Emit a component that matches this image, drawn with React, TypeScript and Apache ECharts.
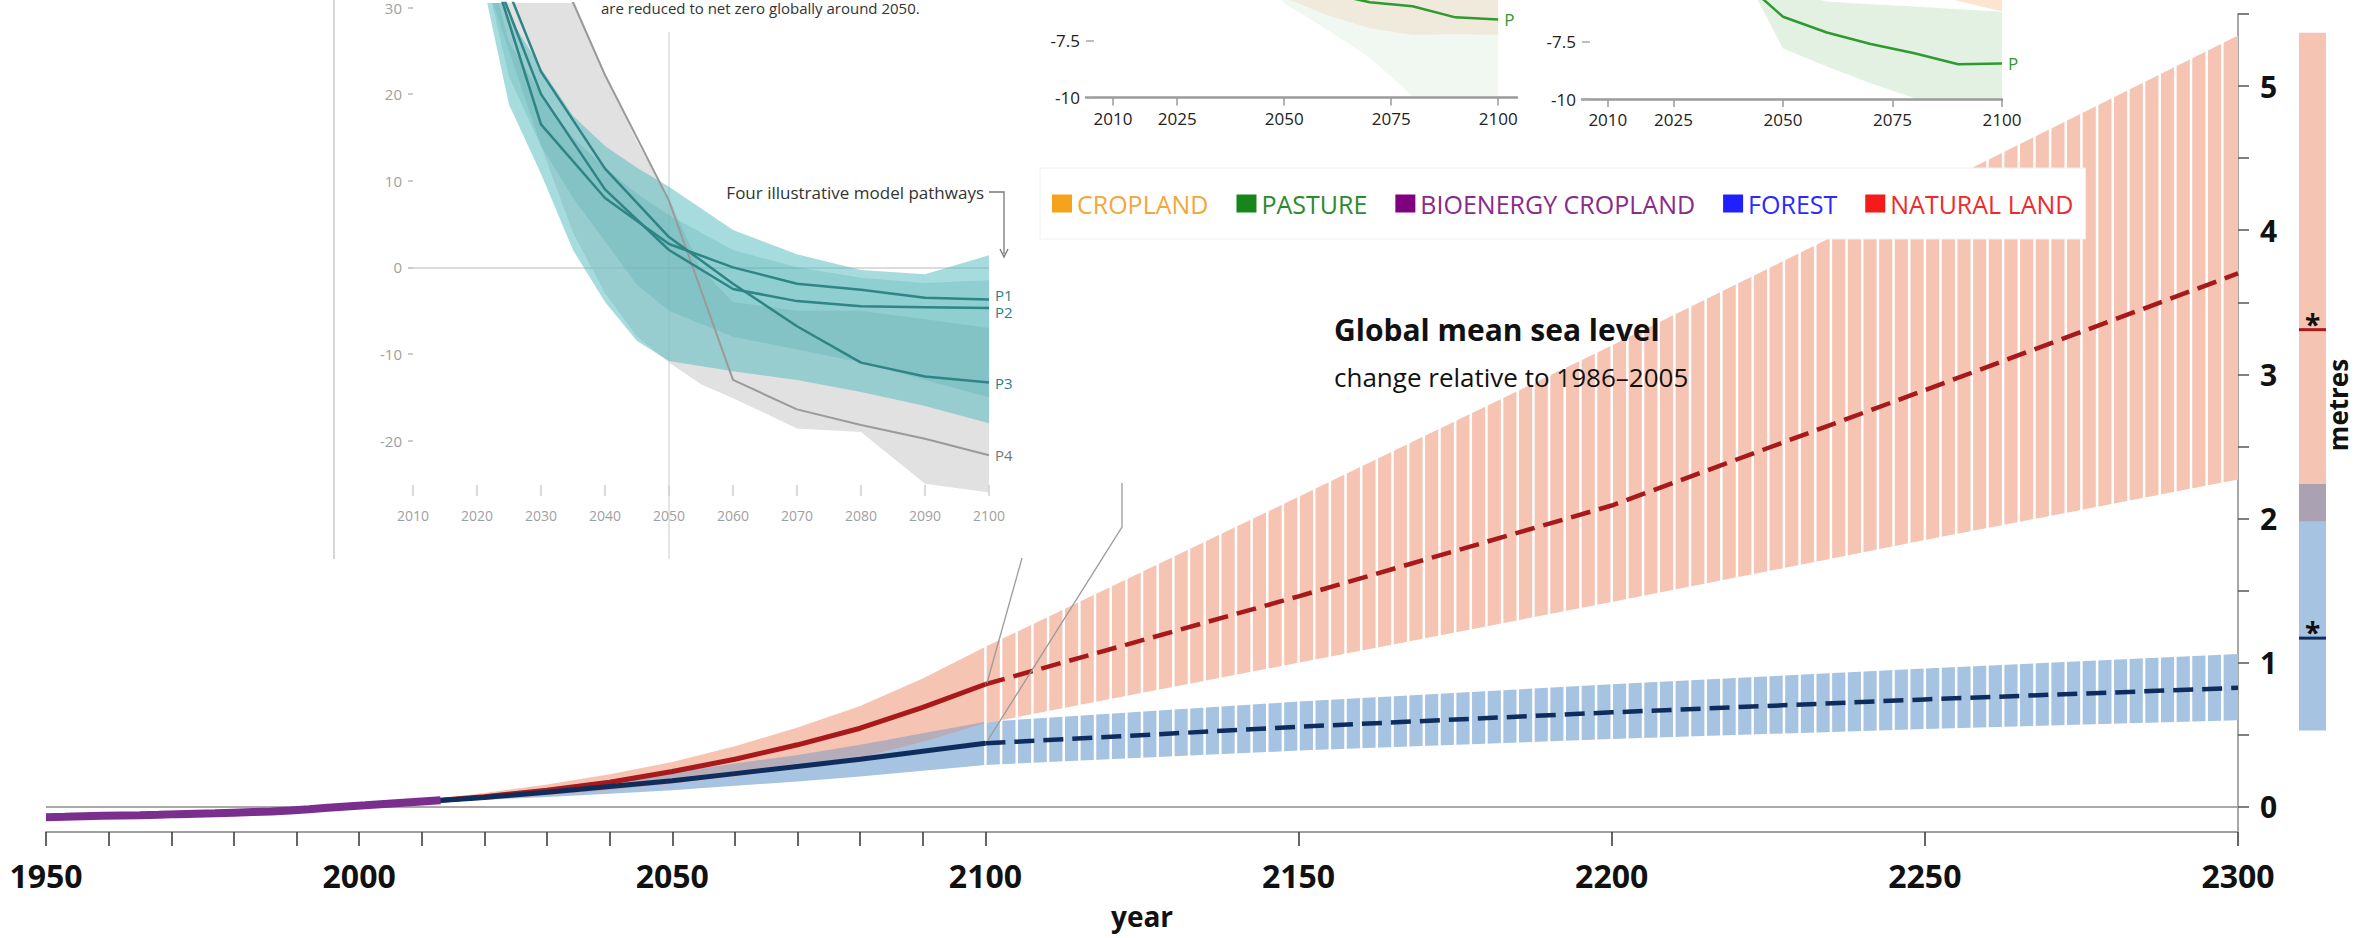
import React, { useEffect, useRef } from 'react';
import * as echarts from 'echarts';

const FONT = "'Open Sans', 'Liberation Sans', 'DejaVu Sans', sans-serif";
const NARROW = "'Liberation Sans Narrow', 'Open Sans', sans-serif";
const plain = (v: number) => String(v);

// ---------------- main chart: axes ----------------
const xTickYears = [1950, 1960, 1970, 1980, 1990, 2000, 2010, 2020, 2030, 2040, 2050, 2060, 2070, 2080, 2090, 2100, 2150, 2200, 2250, 2300];
const xLabelYears = [1950, 2000, 2050, 2100, 2150, 2200, 2250, 2300];
const yTickMetres = [0, 0.5, 1, 1.5, 2, 2.5, 3, 3.5, 4, 4.5, 5, 5.5];
const yLabelMetres = [0, 1, 2, 3, 4, 5];

// ---------------- observed sea level (purple) ----------------
const histYears = [1950, 1953, 1956, 1959, 1962, 1965, 1968, 1971, 1974, 1977, 1980, 1983, 1986, 1989, 1992, 1995, 1998, 2001, 2004, 2007, 2010, 2013];
const histLevel = [-0.072, -0.07, -0.066, -0.063, -0.06, -0.058, -0.055, -0.051, -0.048, -0.045, -0.041, -0.037, -0.033, -0.026, -0.017, -0.007, 0.002, 0.01, 0.019, 0.028, 0.037, 0.046];

// ---------------- projections to 2100 ----------------
const projYears = [2006, 2010, 2020, 2030, 2040, 2050, 2060, 2070, 2080, 2090, 2100];
const rcp85Median = [0.025, 0.035, 0.07, 0.115, 0.17, 0.245, 0.33, 0.43, 0.545, 0.69, 0.85];
const rcp85Low = [0.02, 0.028, 0.05, 0.08, 0.115, 0.16, 0.21, 0.27, 0.34, 0.45, 0.58];
const rcp85High = [0.03, 0.045, 0.095, 0.155, 0.225, 0.31, 0.42, 0.55, 0.7, 0.89, 1.11];
const rcp26Median = [0.025, 0.035, 0.065, 0.1, 0.14, 0.18, 0.23, 0.28, 0.33, 0.385, 0.44];
const rcp26Low = [0.02, 0.027, 0.048, 0.068, 0.09, 0.115, 0.145, 0.175, 0.21, 0.25, 0.29];
const rcp26High = [0.03, 0.045, 0.085, 0.13, 0.185, 0.24, 0.3, 0.36, 0.43, 0.51, 0.59];

// ---------------- extension 2100-2300 ----------------
const extYears = [2100, 2150, 2200, 2250, 2300];
const ext85Median = [0.85, 1.46, 2.09, 2.89, 3.7];
const ext85Low = [0.58, 1.0, 1.42, 1.85, 2.27];
const ext85High = [1.11, 2.15, 3.2, 4.27, 5.35];
const ext26Median = [0.44, 0.555, 0.655, 0.745, 0.825];
const ext26Low = [0.29, 0.39, 0.47, 0.54, 0.6];
const ext26High = [0.59, 0.73, 0.85, 0.96, 1.06];

// ---------------- side bar (2300 ranges) ----------------
const sideNames = ['RCP2.6', 'RCP8.5'];
const sideLow = [0.53, 1.98];
const sideHigh = [2.24, 5.37];
const sideMedian = [1.17, 3.31];

// ---------------- emissions inset ----------------
const emisYears = [2010, 2020, 2030, 2040, 2050, 2060, 2070, 2080, 2090, 2100];
const emisP1 = [38, 40, 16.5, 8, 2.7, 0, -1.9, -2.6, -3.5, -3.7];
const emisP2 = [38, 39, 20, 9, 2, -2.5, -3.9, -4.5, -4.6, -4.7];
const emisP3 = [38, 41, 22.6, 11.4, 3.5, -1.9, -6.8, -11, -12.6, -13.3];
const emisP4 = [38, 44, 39, 22.2, 7.7, -13, -16.4, -18.2, -19.8, -21.7];
const tealYears = [2020, 2025, 2030, 2035, 2040, 2045, 2050, 2060, 2070, 2080, 2090, 2100];
const tealHigh = [44, 29, 23, 17.5, 14, 11.5, 9.3, 4.3, 1.5, -0.3, -0.8, 1.4];
const tealLow = [36, 18.8, 10.8, 2, -4, -8.5, -10.8, -12, -13, -14.4, -16, -18];
const tealCoreHigh = [40, 26, 20, 15, 11.5, 8.5, 6, 2, 0, -1.2, -1.8, -1.5];
const tealCoreLow = [38, 22, 14, 8, 3, -2, -5, -8, -9.5, -11, -13, -15];
const greyYears = [2020, 2030, 2035, 2040, 2045, 2050, 2055, 2060, 2070, 2080, 2090, 2100];
const greyHigh = [46, 40, 31, 22.5, 14.5, 7.9, -0.2, -4, -5, -5, -6, -7];
const greyLow = [36, 14, 4, -3, -8, -11, -13.5, -15.1, -18.6, -19, -25, -26];
const emisXTicks = [2010, 2020, 2030, 2040, 2050, 2060, 2070, 2080, 2090, 2100];
const emisYTicks = [-20, -10, 0, 10, 20, 30];

// ---------------- land-use inset B ----------------
const lbYears = [2045, 2050, 2060, 2070, 2080, 2090, 2100];
const lbPasture = [-4.0, -4.6, -5.4, -5.8, -5.98, -6.47, -6.56];
const lbPastureLow = [-4.6, -5.85, -7.0, -8.25, -9.95, -11.5, -13];
const lbPastureHigh = [-4, -4, -4, -4, -4, -4, -4];
const lbCropLow = [-4.5, -5.6, -6.37, -6.95, -7.25, -7.2, -7.25];
const lbCropHigh = [-4, -4, -4, -4, -4, -4, -4];

// ---------------- land-use inset C ----------------
const lcYears = [2040, 2044, 2050, 2060, 2070, 2080, 2090, 2100];
const lcPasture = [-4.5, -5.4, -6.41, -7.1, -7.6, -8.0, -8.48, -8.45];
const lcPastureHigh = [-4.0, -4.8, -5.3, -5.75, -5.87, -5.96, -6.08, -6.19];
const lcPastureLow = [-4.3, -5.6, -7.8, -8.58, -9.31, -9.97, -10.7, -11.2];
const lcCropYears = [2085, 2090, 2095, 2100];
const lcCropHigh = [-5, -5, -5, -5];
const lcCropLow = [-5.5, -5.72, -5.95, -6.17];
const landXTicks = [2010, 2025, 2050, 2075, 2100];
const landYTicks = [-10, -7.5];

const legendItems = ['CROPLAND', 'PASTURE', 'BIOENERGY CROPLAND', 'FOREST', 'NATURAL LAND'];
const legendColors = ['#f7a21b', '#17861a', '#800080', '#1f1fff', '#f51b1b'];
const legendTextColors = ['#f2a73c', '#2a8a2e', '#8a2a8a', '#2a2aff', '#ee2a2a'];

// ---------------- colours ----------------
const PINK = '#f6c4b3';
const BLUE = '#a6c3e2';
const OVERLAP = '#b6adba';
const RED = '#a8191c';
const NAVY = '#0f2d5c';
const PURPLE = '#7a2f8e';

function band(name: string, idx: number, years: number[], lo: number[], hi: number[], color: string, z: number, opacity = 1) {
  return {
    type: 'custom',
    name,
    xAxisIndex: idx,
    yAxisIndex: idx,
    z,
    silent: true,
    clip: true,
    itemStyle: { color },
    data: years.map((y, i) => [y, lo[i], hi[i]]),
    encode: { x: 0, y: [1, 2] },
    renderItem: (params: any, api: any) => {
      if (params.dataIndex !== 0) return { type: 'group', children: [] };
      const upper = years.map((y, i) => api.coord([y, hi[i]]));
      const lower = years.map((y, i) => api.coord([y, lo[i]])).reverse();
      return { type: 'polygon', shape: { points: upper.concat(lower) }, style: { fill: color, opacity } };
    },
  };
}

function line(name: string, idx: number, xs: number[], ys: number[], color: string, width: number, z: number, extra: any = {}) {
  return {
    type: 'line',
    name,
    xAxisIndex: idx,
    yAxisIndex: idx,
    data: xs.map((x, i) => [x, ys[i]]),
    symbol: 'none',
    showSymbol: false,
    silent: true,
    z,
    lineStyle: { color, width, ...(extra.lineStyle || {}) },
    itemStyle: { color },
    ...Object.fromEntries(Object.entries(extra).filter(([k]) => k !== 'lineStyle')),
  };
}

function buildOption() {
  const overlapLow = projYears.map((_, i) => Math.max(rcp85Low[i], rcp26Low[i]));
  const overlapHigh = projYears.map((_, i) => Math.max(overlapLow[i], Math.min(rcp85High[i], rcp26High[i])));
  const sideOverlapLow = Math.max(sideLow[0], sideLow[1]);
  const sideOverlapHigh = Math.min(sideHigh[0], sideHigh[1]);
  const sideColors = [BLUE, PINK];

  const stripeStart = 2100;
  const stripeStep = 2.5;
  const stripeCount = 80;

  const landAxisX = (idx: number, min: number, max: number) => ({
    type: 'value', gridIndex: idx, min, max, z: 8,
    axisLine: { show: true, onZero: false, lineStyle: { color: '#9a9a9a', width: 2.5 } },
    axisTick: { show: true, customValues: landXTicks, length: 8, lineStyle: { color: '#9a9a9a', width: 1.5 } },
    axisLabel: { customValues: landXTicks, formatter: plain, fontSize: 17, color: '#222', margin: 12, fontFamily: FONT },
    splitLine: { show: false },
  });
  const landAxisY = (idx: number, max: number) => ({
    type: 'value', gridIndex: idx, min: -10, max, z: 8,
    axisLine: { show: false, onZero: false },
    axisTick: { show: true, inside: true, customValues: landYTicks, length: 8, lineStyle: { color: '#aaa', width: 1.5 } },
    axisLabel: { customValues: landYTicks, formatter: plain, fontSize: 17, color: '#222', margin: 6, fontFamily: FONT },
    splitLine: { show: false },
  });

  const series: any[] = [
    // ---------- main chart ----------
    band('RCP2.6 range', 0, projYears, rcp26Low, rcp26High, BLUE, 1),
    band('RCP8.5 range', 0, projYears, rcp85Low, rcp85High, PINK, 1),
    band('overlap', 0, projYears, overlapLow, overlapHigh, OVERLAP, 1),
    band('RCP2.6 range ext', 0, extYears, ext26Low, ext26High, BLUE, 1),
    band('RCP8.5 range ext', 0, extYears, ext85Low, ext85High, PINK, 1),
    {
      type: 'custom', name: 'stripe gaps', xAxisIndex: 0, yAxisIndex: 0, z: 2, silent: true,
      data: [[stripeStart, 0]],
      renderItem: (params: any, api: any) => {
        const children: any[] = [];
        for (let k = 0; k < stripeCount; k++) {
          const yr = stripeStart + k * stripeStep;
          const top = api.coord([yr, 5.5]);
          const bot = api.coord([yr, 0.15]);
          children.push({ type: 'line', shape: { x1: top[0], y1: top[1], x2: bot[0], y2: bot[1] }, style: { stroke: '#fff', lineWidth: 2.5 } });
        }
        return { type: 'group', children };
      },
    },
    {
      type: 'line', name: 'zero', xAxisIndex: 0, yAxisIndex: 0, z: 3, silent: true, data: [[1950, 0]], symbol: 'none',
      lineStyle: { opacity: 0 },
      markLine: { silent: true, symbol: ['none', 'none'], label: { show: false }, lineStyle: { color: '#a9a9a9', width: 2, type: 'solid' }, data: [{ yAxis: 0 }] },
    },
    line('RCP8.5 median', 0, projYears, rcp85Median, RED, 5, 4),
    line('RCP2.6 median', 0, projYears, rcp26Median, NAVY, 5, 4),
    line('RCP8.5 median ext', 0, extYears, ext85Median, RED, 4.5, 4, { lineStyle: { type: [20, 9] } }),
    line('RCP2.6 median ext', 0, extYears, ext26Median, NAVY, 4.5, 4, { lineStyle: { type: [20, 9] } }),
    line('observed', 0, histYears, histLevel, PURPLE, 8, 5),

    // ---------- side bar ----------
    {
      type: 'custom', name: 'side ranges', xAxisIndex: 1, yAxisIndex: 1, z: 2, silent: true,
      data: sideNames.map((n, i) => [0, sideLow[i], sideHigh[i], i]),
      renderItem: (params: any, api: any) => {
        const i = params.dataIndex;
        const a = api.coord([0, sideHigh[i]]);
        const b = api.coord([1, sideLow[i]]);
        return { type: 'rect', shape: { x: a[0], y: a[1], width: b[0] - a[0], height: b[1] - a[1] }, style: { fill: sideColors[i] } };
      },
    },
    {
      type: 'custom', name: 'side overlap', xAxisIndex: 1, yAxisIndex: 1, z: 3, silent: true,
      data: [[0, sideOverlapLow, sideOverlapHigh]],
      renderItem: (params: any, api: any) => {
        const a = api.coord([0, sideOverlapHigh]);
        const b = api.coord([1, sideOverlapLow]);
        return { type: 'rect', shape: { x: a[0], y: a[1], width: b[0] - a[0], height: b[1] - a[1] }, style: { fill: '#aaa1b2' } };
      },
    },
    {
      type: 'custom', name: 'side medians', xAxisIndex: 1, yAxisIndex: 1, z: 4, silent: true,
      data: sideMedian.map((m, i) => [0.5, m, i]),
      renderItem: (params: any, api: any) => {
        const i = params.dataIndex;
        const a = api.coord([0, sideMedian[i]]);
        const b = api.coord([1, sideMedian[i]]);
        return {
          type: 'group', children: [
            { type: 'line', shape: { x1: a[0], y1: a[1], x2: b[0], y2: b[1] }, style: { stroke: i === 0 ? NAVY : RED, lineWidth: 3 } },
            { type: 'text', x: (a[0] + b[0]) / 2, y: a[1] - 6, style: { text: '*', fontSize: 28, fontWeight: 'bold', fill: '#111', align: 'center', verticalAlign: 'middle', fontFamily: FONT } },
          ],
        };
      },
    },

    // ---------- emissions inset ----------
    band('overshoot pathways', 2, greyYears, greyLow, greyHigh, 'rgba(200,200,200,0.55)', 5),
    band('no/limited overshoot', 2, tealYears, tealLow, tealHigh, 'rgba(80,185,190,0.5)', 5),
    band('core', 2, tealYears, tealCoreLow, tealCoreHigh, 'rgba(60,160,165,0.22)', 5),
    {
      type: 'line', name: 'zero2', xAxisIndex: 2, yAxisIndex: 2, z: 4, silent: true, data: [[2010, 0]], symbol: 'none',
      lineStyle: { opacity: 0 },
      markLine: { silent: true, symbol: ['none', 'none'], label: { show: false }, lineStyle: { color: '#d0d0d0', width: 1.5, type: 'solid' }, data: [{ yAxis: 0 }] },
    },
    line('P4', 2, emisYears, emisP4, '#9a9a9a', 2, 6, { endLabel: { show: true, formatter: 'P4', color: '#777', fontSize: 15, distance: 6, fontFamily: FONT } }),
    line('P3', 2, emisYears, emisP3, '#2f8486', 2.5, 6, { endLabel: { show: true, formatter: 'P3', color: '#2a7f80', fontSize: 15, distance: 6, fontFamily: FONT } }),
    line('P2', 2, emisYears, emisP2, '#2f8486', 2.5, 6, { endLabel: { show: true, formatter: 'P2', color: '#2a7f80', fontSize: 15, distance: 6, fontFamily: FONT, offset: [0, 4] } }),
    line('P1', 2, emisYears, emisP1, '#2f8486', 2.5, 6, { endLabel: { show: true, formatter: 'P1', color: '#2a7f80', fontSize: 15, distance: 6, fontFamily: FONT, offset: [0, -4] } }),

    // ---------- land-use inset B ----------
    band('PASTURE', 3, lbYears, lbPastureLow, lbPastureHigh, 'rgba(80,170,80,0.08)', 5),
    band('CROPLAND', 3, lbYears, lbCropLow, lbCropHigh, 'rgba(238,160,110,0.16)', 5),
    line('PASTURE', 3, lbYears, lbPasture, '#2f9a2f', 2.5, 6, { endLabel: { show: true, formatter: 'P', color: '#2f9a2f', fontSize: 17, distance: 6, fontFamily: FONT } }),

    // ---------- land-use inset C ----------
    band('PASTURE', 4, lcYears, lcPastureLow, lcPastureHigh, 'rgba(80,170,80,0.16)', 5),
    band('CROPLAND', 4, lcCropYears, lcCropLow, lcCropHigh, 'rgba(245,170,100,0.3)', 5),
    line('PASTURE', 4, lcYears, lcPasture, '#2f9a2f', 2.5, 6, { endLabel: { show: true, formatter: 'P', color: '#2f9a2f', fontSize: 17, distance: 6, fontFamily: FONT } }),

    // legend-only series
    { type: 'line', name: 'BIOENERGY CROPLAND', xAxisIndex: 3, yAxisIndex: 3, data: [], itemStyle: { color: legendColors[2] } },
    { type: 'line', name: 'FOREST', xAxisIndex: 3, yAxisIndex: 3, data: [], itemStyle: { color: legendColors[3] } },
    { type: 'line', name: 'NATURAL LAND', xAxisIndex: 3, yAxisIndex: 3, data: [], itemStyle: { color: legendColors[4] } },
  ];

  return {
    animation: false,
    backgroundColor: '#fff',
    textStyle: { fontFamily: FONT },
    grid: [
      { left: 46, right: 118, top: 14, bottom: 106 },
      { left: 2299, width: 27, top: 14, bottom: 106 },
      { left: 413, width: 576, top: 0, height: 496 },
      { left: 1086, width: 431, top: 0, height: 97.5 },
      { left: 1582, width: 420, top: 0, height: 99 },
    ],
    xAxis: [
      {
        type: 'value', gridIndex: 0, min: 1950, max: 2300,
        axisLine: { show: true, onZero: false, lineStyle: { color: '#a0a0a0', width: 2 } },
        axisTick: { show: true, customValues: xTickYears, length: 14, lineStyle: { color: '#333', width: 1.5 } },
        axisLabel: { customValues: xLabelYears, formatter: plain, fontSize: 32, fontWeight: 'bold', color: '#111', margin: 27, fontFamily: FONT },
        splitLine: { show: false },
        name: 'year', nameLocation: 'middle', nameGap: 70,
        nameTextStyle: { fontSize: 28, fontWeight: 'bold', color: '#111', fontFamily: FONT },
      },
      { type: 'value', gridIndex: 1, min: 0, max: 1, show: false },
      {
        type: 'value', gridIndex: 2, min: 2010, max: 2100, z: 8,
        axisLine: { show: false, onZero: false },
        axisTick: { show: true, inside: true, customValues: emisXTicks, length: 11, lineStyle: { color: '#cfcfcf', width: 1.5 } },
        axisLabel: { customValues: emisXTicks, formatter: plain, fontSize: 14, color: '#a0a0a0', margin: 12, fontFamily: NARROW },
        splitLine: { show: false },
      },
      landAxisX(3, 2003.7, 2104.4),
      landAxisX(4, 2004.1, 2100),
    ],
    yAxis: [
      {
        type: 'value', gridIndex: 0, min: -0.175, max: 5.5, position: 'right',
        axisLine: { show: true, onZero: false, lineStyle: { color: '#a8a8a8', width: 2 } },
        axisTick: { show: true, customValues: yTickMetres, length: 11, lineStyle: { color: '#555', width: 1.5 } },
        axisLabel: { customValues: yLabelMetres, formatter: plain, fontSize: 30, fontWeight: 'bold', color: '#111', margin: 22, fontFamily: FONT },
        splitLine: { show: false },
      },
      { type: 'value', gridIndex: 1, min: -0.175, max: 5.5, show: false },
      {
        type: 'value', gridIndex: 2, min: -26.4, max: 30.52, z: 8,
        axisLine: { show: false, onZero: false },
        axisTick: { show: true, customValues: emisYTicks, length: 5, lineStyle: { color: '#bbb', width: 1.5 } },
        axisLabel: { customValues: emisYTicks, formatter: plain, fontSize: 15, color: '#a0a0a0', margin: 11, fontFamily: NARROW },
        splitLine: { show: false },
      },
      landAxisY(3, -5.705),
      landAxisY(4, -5.68),
    ],
    legend: {
      data: legendItems.map((n, i) => ({ name: n, itemStyle: { color: legendColors[i] }, textStyle: { color: legendTextColors[i] } })),
      left: 1040, top: 168, orient: 'horizontal', icon: 'rect', itemWidth: 20, itemHeight: 18, itemGap: 28,
      selectedMode: false, backgroundColor: '#fff', borderColor: '#f0f0f0', borderWidth: 1, padding: [23, 12, 23, 12],
      textStyle: { fontSize: 25, fontFamily: FONT },
    },
    graphic: [
      { type: 'line', z: 0, silent: true, shape: { x1: 334, y1: 0, x2: 334, y2: 559 }, style: { stroke: '#c8c8c8', lineWidth: 1.5 } },
      { type: 'line', z: 0, silent: true, shape: { x1: 669, y1: 32, x2: 669, y2: 559 }, style: { stroke: '#dedede', lineWidth: 1.5 } },
      { type: 'text', z: 10, silent: true, x: 601, y: 15, style: { text: 'are reduced to net zero globally around 2050.', fontSize: 15, fill: '#333', verticalAlign: 'bottom', fontFamily: NARROW } },
      { type: 'text', z: 10, silent: true, x: 984, y: 192, style: { text: 'Four illustrative model pathways', fontSize: 17, fill: '#333', align: 'right', verticalAlign: 'middle', fontFamily: NARROW } },
      { type: 'polyline', z: 10, silent: true, shape: { points: [[989, 192], [1004, 192], [1004, 254]] }, style: { stroke: '#777', lineWidth: 1.3, fill: null } },
      { type: 'polyline', z: 10, silent: true, shape: { points: [[1000, 249], [1004, 257], [1008, 249]] }, style: { stroke: '#777', lineWidth: 1.3, fill: null } },
      { type: 'line', z: 10, silent: true, shape: { x1: 1022, y1: 558, x2: 987, y2: 683 }, style: { stroke: '#9a9a9a', lineWidth: 1.3 } },
      { type: 'polyline', z: 10, silent: true, shape: { points: [[1122, 483], [1122, 527], [988, 740]] }, style: { stroke: '#9a9a9a', lineWidth: 1.3, fill: null } },
      { type: 'text', z: 10, silent: true, x: 1334, y: 329, style: { text: 'Global mean sea level', fontSize: 30, fontWeight: 'bold', fill: '#111', verticalAlign: 'middle', fontFamily: FONT } },
      { type: 'text', z: 10, silent: true, x: 1334, y: 377, style: { text: 'change relative to 1986\u20132005', fontSize: 26, fill: '#111', verticalAlign: 'middle', fontFamily: FONT } },
      { type: 'text', z: 10, silent: true, x: 2338, y: 405, rotation: Math.PI / 2, style: { text: 'metres', fontSize: 26, fontWeight: 'bold', fill: '#111', align: 'center', verticalAlign: 'middle', fontFamily: FONT } },
    ],
    series,
  };
}

export default function App() {
  const ref = useRef<HTMLDivElement>(null);
  useEffect(() => {
    const chart = echarts.init(ref.current as HTMLDivElement, null, { renderer: 'svg' });
    chart.setOption(buildOption() as any);
    return () => chart.dispose();
  }, []);
  return <div ref={ref} style={{ position: 'fixed', left: 0, top: 0, width: 2356, height: 938, background: '#fff' }} />;
}
